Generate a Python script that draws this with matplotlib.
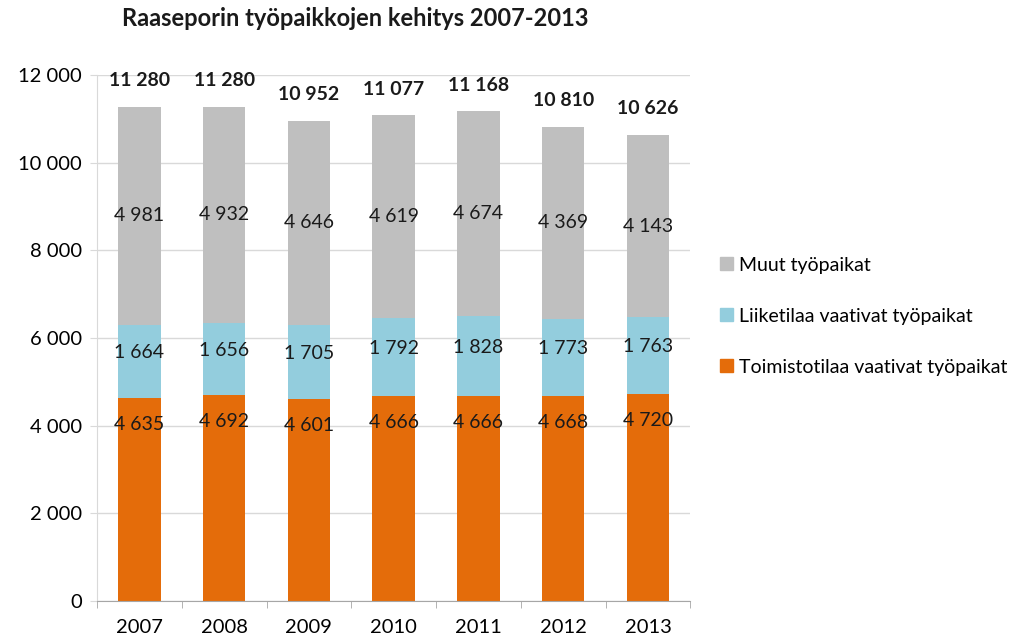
import matplotlib.pyplot as plt
import numpy as np
from matplotlib.patches import Patch

plt.rcParams['font.family'] = ['Lato', 'DejaVu Sans']

vuodet = ["2007", "2008", "2009", "2010", "2011", "2012", "2013"]
toimisto = [4635, 4692, 4601, 4666, 4666, 4668, 4720]
liike = [1664, 1656, 1705, 1792, 1828, 1773, 1763]
muut = [4981, 4932, 4646, 4619, 4674, 4369, 4143]
yhteensa = [11280, 11280, 10952, 11077, 11168, 10810, 10626]

c_toimisto = "#E46C0A"
c_liike = "#93CDDD"
c_muut = "#BFBFBF"


def fmt(v):
    return f"{v:,}".replace(",", " ")


fig = plt.figure(figsize=(10.24, 6.38), dpi=100)
ax = fig.add_axes([0.0947, 0.058, 0.5795, 0.8245])

x = np.arange(len(vuodet))
t = np.array(toimisto)
l = np.array(liike)
m = np.array(muut)
w = 0.5

ax.bar(x, t, w, color=c_toimisto, zorder=2)
ax.bar(x, l, w, bottom=t, color=c_liike, zorder=2)
ax.bar(x, m, w, bottom=t + l, color=c_muut, zorder=2)

for i in range(len(x)):
    ax.text(x[i], t[i] - 600, fmt(toimisto[i]), ha="center", va="center", fontsize=14, color="#1a1a1a", zorder=3)
    ax.text(x[i], t[i] + l[i] / 2 + 200, fmt(liike[i]), ha="center", va="center", fontsize=14, color="#1a1a1a", zorder=3)
    ax.text(x[i], t[i] + l[i] + m[i] / 2, fmt(muut[i]), ha="center", va="center", fontsize=14, color="#1a1a1a", zorder=3)
    ax.annotate(fmt(yhteensa[i]), (x[i], yhteensa[i]), xytext=(0, 19), textcoords="offset points",
                ha="center", va="center", fontsize=14, fontweight="bold", color="#1a1a1a")

ax.set_xlim(-0.5, len(vuodet) - 0.5)
ax.set_ylim(0, 12000)
ax.set_yticks(range(0, 12001, 2000))
ax.set_yticklabels([fmt(v) for v in range(0, 12001, 2000)])
ax.set_xticks(x)
ax.set_xticklabels(vuodet)
ax.set_xticks(np.arange(-0.5, len(vuodet)), minor=True)
ax.tick_params(axis="x", which="major", length=0, pad=13, labelsize=14.5)
ax.tick_params(axis="x", which="minor", length=5, color="#A6A6A6")
ax.tick_params(axis="y", length=5, color="#D9D9D9", pad=6, labelsize=14.5)

ax.grid(axis="y", color="#D9D9D9", lw=1, zorder=0)
for s in ["top", "right"]:
    ax.spines[s].set_visible(False)
ax.spines["left"].set_color("#D9D9D9")
ax.spines["bottom"].set_color("#A6A6A6")

fig.text(0.347, 0.971, "Raaseporin työpaikkojen kehitys 2007-2013", ha="center", va="center",
         fontsize=17, fontweight="bold", color="#1a1a1a")

handles = [Patch(color=c_muut), Patch(color=c_liike), Patch(color=c_toimisto)]
labels = ["Muut työpaikat", "Liiketilaa vaativat työpaikat", "Toimistotilaa vaativat työpaikat"]
fig.legend(handles, labels, loc="upper left", bbox_to_anchor=(0.686, 0.625), frameon=False,
           fontsize=14, handlelength=0.65, handleheight=0.65, handletextpad=0.35, labelspacing=1.75)

fig.savefig("out.png", dpi=100)
